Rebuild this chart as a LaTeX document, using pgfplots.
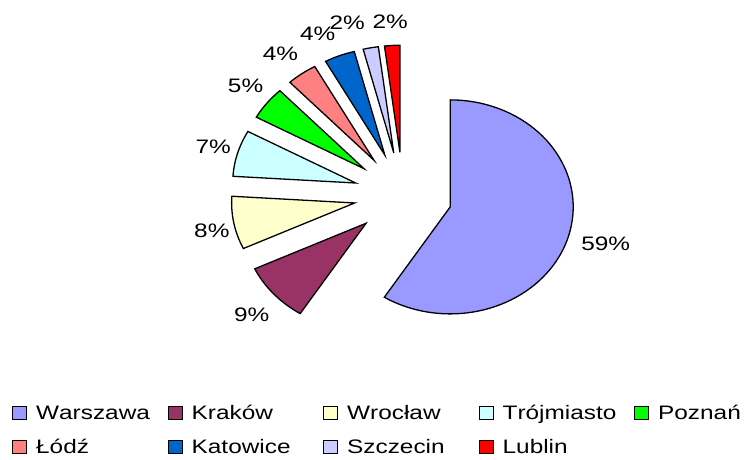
\documentclass[border=0pt]{standalone}
\usepackage{pgfplots}
\pgfplotsset{compat=1.18}
\usepackage{pgfplotstable}
\usepackage{fontspec}
\setmainfont{Liberation Sans}[FakeStretch=1.25, Kerning=Off]
\definecolor{cWar}{HTML}{9999FF}
\definecolor{cKra}{HTML}{993366}
\definecolor{cWro}{HTML}{FFFFCC}
\definecolor{cTro}{HTML}{CCFFFF}
\definecolor{cPoz}{HTML}{00FF00}
\definecolor{cLod}{HTML}{FF8080}
\definecolor{cKat}{HTML}{0066CC}
\definecolor{cSzc}{HTML}{CCCCFF}
\definecolor{cLub}{HTML}{FF0000}
\newcommand\cum{90}
% #1 value, #2 colour, #3 legend text, #4 #5 label shift (pt)
\newcommand\slice[5]{%
  \pgfmathsetmacro\sA{\cum}%
  \pgfmathsetmacro\sB{\cum-3.6*#1}%
  \pgfmathsetmacro\sM{(\sA+\sB)/2}%
  \pgfmathsetmacro\pdx{0.4*cos(\sM)}%
  \pgfmathsetmacro\pdy{0.4*sin(\sM)}%
  \pgfmathsetmacro\plx{1.64*cos(\sM)}%
  \pgfmathsetmacro\ply{1.64*sin(\sM)}%
  \edef\doit{%
    \noexpand\addplot[fill=#2, draw=black, line width=1.3pt, line join=miter,
      domain=\sB:\sA, samples=80]
      ({\pdx+cos(x)},{\pdy+sin(x)}) -- (axis cs:\pdx,\pdy) -- cycle;
    \noexpand\addlegendentry{\unexpanded{#3}}
    \noexpand\node[font=\noexpand\lblfont, xshift=#4pt, yshift=#5pt] at (axis cs:\plx,\ply) {#1\noexpand\%};
  }%
  \doit
  \xdef\cum{\sB}%
}
\newcommand\lblfont{\fontsize{19.5}{23}\selectfont}
\newcommand\lgw[1]{\makebox[119.5pt][l]{#1}}
\begin{document}
\begin{tikzpicture}
\begin{axis}[
  scale only axis, width=748pt, height=457pt,
  xmin=-3.276, xmax=2.805, ymin=-2.449, ymax=1.822,
  hide axis, clip=false,
  legend columns=5,
  legend image code/.code={\draw[#1, line width=1pt] (0pt,-6.5pt) rectangle (14pt,6.5pt);},
  legend style={at={(rel axis cs:0.012,0.122)}, anchor=north west, draw=none, fill=none,
    font=\lblfont, row sep=14pt, nodes={inner sep=2pt},
    /tikz/every even column/.append style={column sep=10pt},
    /tikz/every odd column/.append style={column sep=7pt}},
]
\path (rel axis cs:0,0) rectangle (rel axis cs:1,1);
\slice{59}{cWar}{\lgw{Warszawa}}{9}{0}
\slice{9}{cKra}{\lgw{Kraków}}{0}{-4}
\slice{8}{cWro}{\lgw{Wrocław}}{7}{-3}
\slice{7}{cTro}{\lgw{Trójmiasto}}{4}{-1}
\slice{5}{cPoz}{Poznań}{2}{2}
\slice{4}{cLod}{\lgw{Łódź}}{-4}{-1}
\slice{4}{cKat}{\lgw{Katowice}}{-11}{-2}
\slice{2}{cSzc}{\lgw{Szczecin}}{-18}{0}
\slice{2}{cLub}{\lgw{Lublin}}{0}{-2}
\end{axis}
\end{tikzpicture}
\end{document}
